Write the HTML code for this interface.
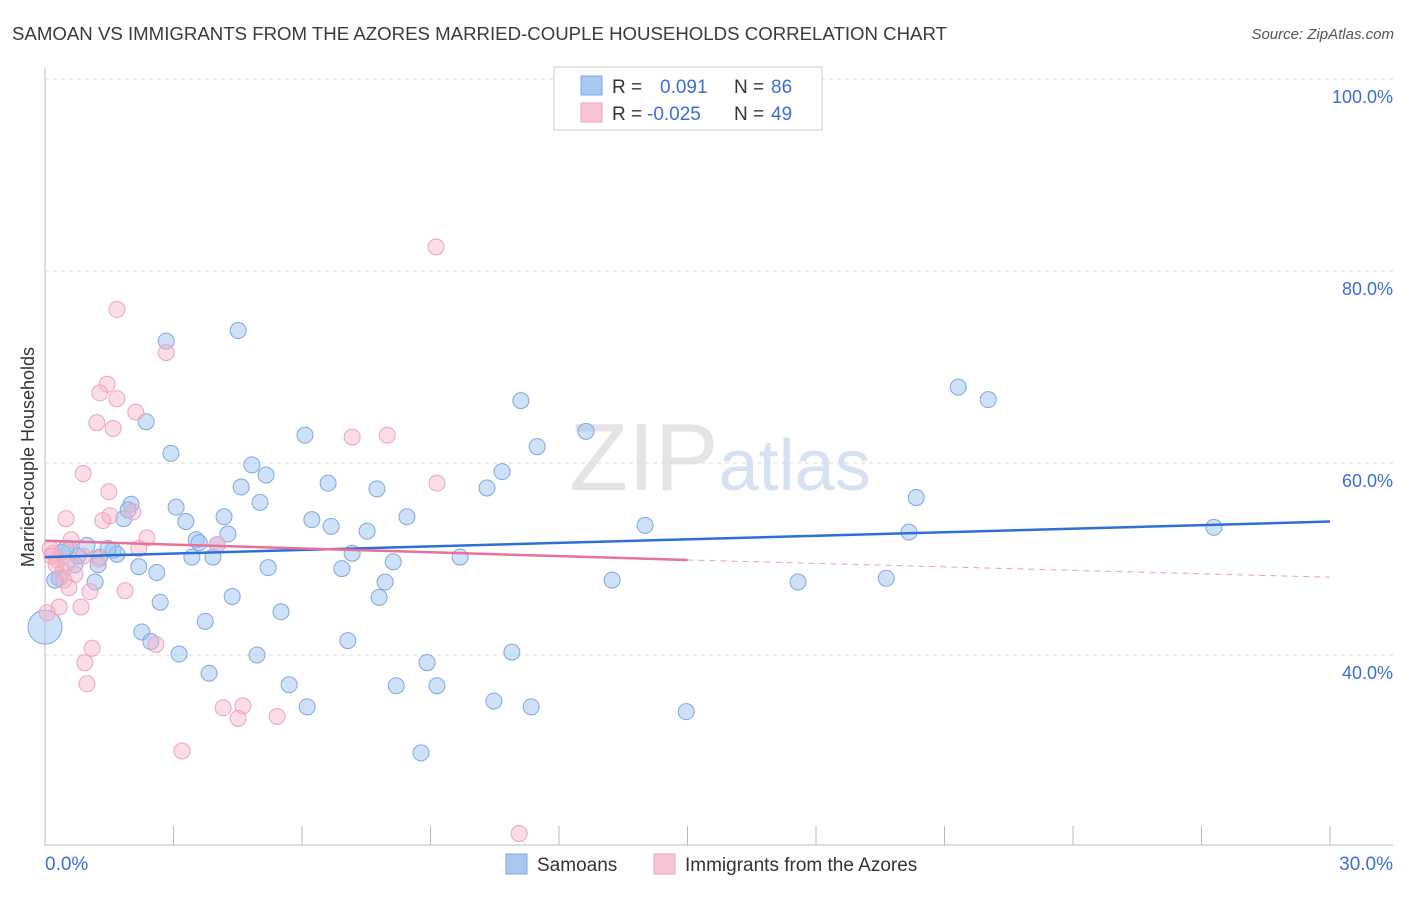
<!DOCTYPE html>
<html><head><meta charset="utf-8"><style>
body{margin:0;background:#fff;font-family:"Liberation Sans",sans-serif;}
svg text{font-family:"Liberation Sans",sans-serif;}
</style></head><body>
<svg id="chart" width="1406" height="892" xmlns="http://www.w3.org/2000/svg">
<text x="12" y="40" font-size="18" fill="#3a3a3a" textLength="935" lengthAdjust="spacingAndGlyphs">SAMOAN VS IMMIGRANTS FROM THE AZORES MARRIED-COUPLE HOUSEHOLDS CORRELATION CHART</text>
<text x="1394" y="39" font-size="15" fill="#555" text-anchor="end" font-style="italic">Source: ZipAtlas.com</text>
<text transform="translate(34,457) rotate(-90)" font-size="18" fill="#333" text-anchor="middle">Married-couple Households</text>
<text x="720" y="490" font-size="96" fill="#e4e4e4" text-anchor="middle" font-family="Liberation Serif">ZIP<tspan fill="#d6e2f3" font-family="Liberation Sans" font-size="72">atlas</tspan></text>
<g id="grid"></g>
<g id="marks"></g>
<g>
<rect x="554" y="67" width="268" height="63" fill="#fff" stroke="#ccc"/>
<rect x="581" y="76" width="21" height="19" fill="#a8c8f0" stroke="#7fa8e0"/>
<rect x="581" y="103" width="21" height="19" fill="#f8c4d4" stroke="#eea4bc"/>
<text x="612" y="93" font-size="19" fill="#333">R = </text><text x="660" y="93" font-size="19" fill="#3b6fd4">0.091</text>
<text x="734" y="93" font-size="19" fill="#333">N = </text><text x="771" y="93" font-size="19" fill="#3b6fd4">86</text>
<text x="612" y="120" font-size="19" fill="#333">R = </text><text x="647" y="120" font-size="19" fill="#3b6fd4">-0.025</text>
<text x="734" y="120" font-size="19" fill="#333">N = </text><text x="771" y="120" font-size="19" fill="#3b6fd4">49</text>
</g>
<g>
<rect x="506" y="854" width="21" height="20" fill="#a8c8f0" stroke="#7fa8e0"/>
<text x="537" y="871" font-size="19" fill="#333">Samoans</text>
<rect x="654" y="854" width="21" height="20" fill="#f8c4d4" stroke="#eea4bc"/>
<text x="685" y="871" font-size="19" fill="#333">Immigrants from the Azores</text>
</g>
</svg>
<script>
const xTicks=[0,3,6,9,12,15,18,21,24,27,30];
const yGrid=[100,80,60,40];
const yLabels=["100.0%","80.0%","60.0%","40.0%"];
const samoanX=[2.83,4.51,2.36,2.94,4.83,5.16,4.58,5.02,3.06,3.29,4.18,4.27,3.53,3.60,4.02,3.92,3.43,2.01,1.84,1.94,1.59,1.68,1.28,1.47,0.98,0.58,0.77,1.24,0.33,0.23,1.17,2.19,2.61,2.69,2.26,2.47,3.13,3.74,4.37,3.83,5.21,5.51,4.95,5.70,6.12,6.07,6.61,6.23,6.68,7.17,6.93,7.07,7.75,7.52,8.13,7.94,7.80,8.45,9.69,8.20,8.92,9.15,8.78,10.32,10.67,11.11,11.49,12.63,10.48,10.90,11.35,13.24,14.01,14.97,17.58,19.64,20.17,20.34,21.32,22.02,27.29,0,0.40,0.70,0.49];
const samoanY=[72.7,73.8,64.3,61.0,59.8,58.75,57.5,55.9,55.4,53.9,54.4,52.6,52.0,51.7,51.5,50.2,50.2,55.7,54.2,55.1,50.9,50.5,50.2,51.1,51.4,51.0,50.3,49.4,48.0,47.8,47.6,49.2,48.6,45.5,42.4,41.4,40.1,43.5,46.1,38.1,49.1,44.5,40.0,36.9,34.6,62.9,57.9,54.1,53.4,50.6,49.0,41.5,57.3,52.9,49.7,47.6,46.0,54.4,50.2,36.8,39.2,36.8,29.8,57.4,59.1,66.5,61.7,63.3,35.2,40.3,34.6,47.8,53.5,34.1,47.6,48.0,52.8,56.4,67.9,66.6,53.3,42.9,50.7,49.4,51.1];
const azoresX=[9.13,1.68,2.83,1.45,1.28,1.68,1.21,1.59,2.12,0.89,1.49,0.49,1.35,1.52,2.05,2.38,2.19,0.61,0.19,0.30,0.12,0.42,0.70,0.44,0.56,0.33,0.84,1.05,1.87,2.59,1.10,0.93,0.98,4.16,4.62,4.51,5.42,3.20,7.17,7.99,9.15,4.02,11.07,0.05,0.26,1.26,0.89,0.51,0.16];
const azoresY=[82.5,76.0,71.5,68.2,67.3,66.7,64.2,63.6,65.3,58.9,57.0,54.2,54.0,54.5,54.9,52.2,51.1,52.0,50.6,49.9,51.1,48.75,48.4,47.8,47.0,45.0,45.0,46.6,46.7,41.1,40.7,39.2,37.0,34.5,34.7,33.4,33.6,30.0,62.7,62.9,57.9,51.5,21.4,44.4,49.4,50.0,50.3,49.6,50.3];
const samoanTrend=[[0,50.2],[30,53.9]];
const azoresTrendSolid=[[0,51.9],[15,49.9]];
const azoresTrendDash=[[15,49.9],[30,48.1]];

const NS="http://www.w3.org/2000/svg";
const X=v=>45+v/30*1285;
const Y=v=>79+(100-v)*9.6;
const grid=document.getElementById('grid'),marks=document.getElementById('marks');
function mk(tag,attrs,parent){const e=document.createElementNS(NS,tag);for(const k in attrs)e.setAttribute(k,attrs[k]);parent.appendChild(e);return e;}
yGrid.forEach((v,i)=>{
  const l=mk('line',{x1:45,x2:1393,y1:Y(v),y2:Y(v),stroke:'#ddd','stroke-dasharray':'4,4'},grid);
  
  
  const t=mk('text',{x:1393,y:Y(v)+24,'font-size':18,fill:'#3b6fd4','text-anchor':'end'},grid);
  t.textContent=yLabels[i];
  
  
});
const ax=mk('line',{x1:45,x2:45,y1:68,y2:845,stroke:'#bbb'},grid);


const bx=mk('line',{x1:45,x2:1393,y1:845,y2:845,stroke:'#bbb'},grid);


xTicks.forEach(v=>{
  const t=mk('line',{x1:X(v),x2:X(v),y1:826,y2:845,stroke:'#bbb'},grid);
  
  
});
const xl0=mk('text',{x:45,y:870,'font-size':19,fill:'#3b6fd4'},grid);xl0.textContent='0.0%';


const xl1=mk('text',{x:1393,y:870,'font-size':19,fill:'#3b6fd4','text-anchor':'end'},grid);xl1.textContent='30.0%';



samoanX.forEach((v,i)=>{
  const c=mk('circle',{cx:X(v),cy:Y(samoanY[i]),r:(v===0?17:8),fill:'rgba(160,196,240,0.5)',stroke:'#7fa8e0','stroke-width':1},marks);
  
  
});
azoresX.forEach((v,i)=>{
  const c=mk('circle',{cx:X(v),cy:Y(azoresY[i]),r:8,fill:'rgba(245,180,200,0.45)',stroke:'#eea4bc','stroke-width':1},marks);
  
  
});
const l1=mk('line',{x1:X(samoanTrend[0][0]),y1:Y(samoanTrend[0][1]),x2:X(samoanTrend[1][0]),y2:Y(samoanTrend[1][1]),stroke:'#2e6fd6','stroke-width':2.5},marks);


const l2=mk('line',{x1:X(azoresTrendSolid[0][0]),y1:Y(azoresTrendSolid[0][1]),x2:X(azoresTrendSolid[1][0]),y2:Y(azoresTrendSolid[1][1]),stroke:'#e8709a','stroke-width':2.5},marks);


const l3=mk('line',{x1:X(azoresTrendDash[0][0]),y1:Y(azoresTrendDash[0][1]),x2:X(azoresTrendDash[1][0]),y2:Y(azoresTrendDash[1][1]),stroke:'#e8a0b8','stroke-width':1,'stroke-dasharray':'6,5'},marks);


</script>
</body></html>
